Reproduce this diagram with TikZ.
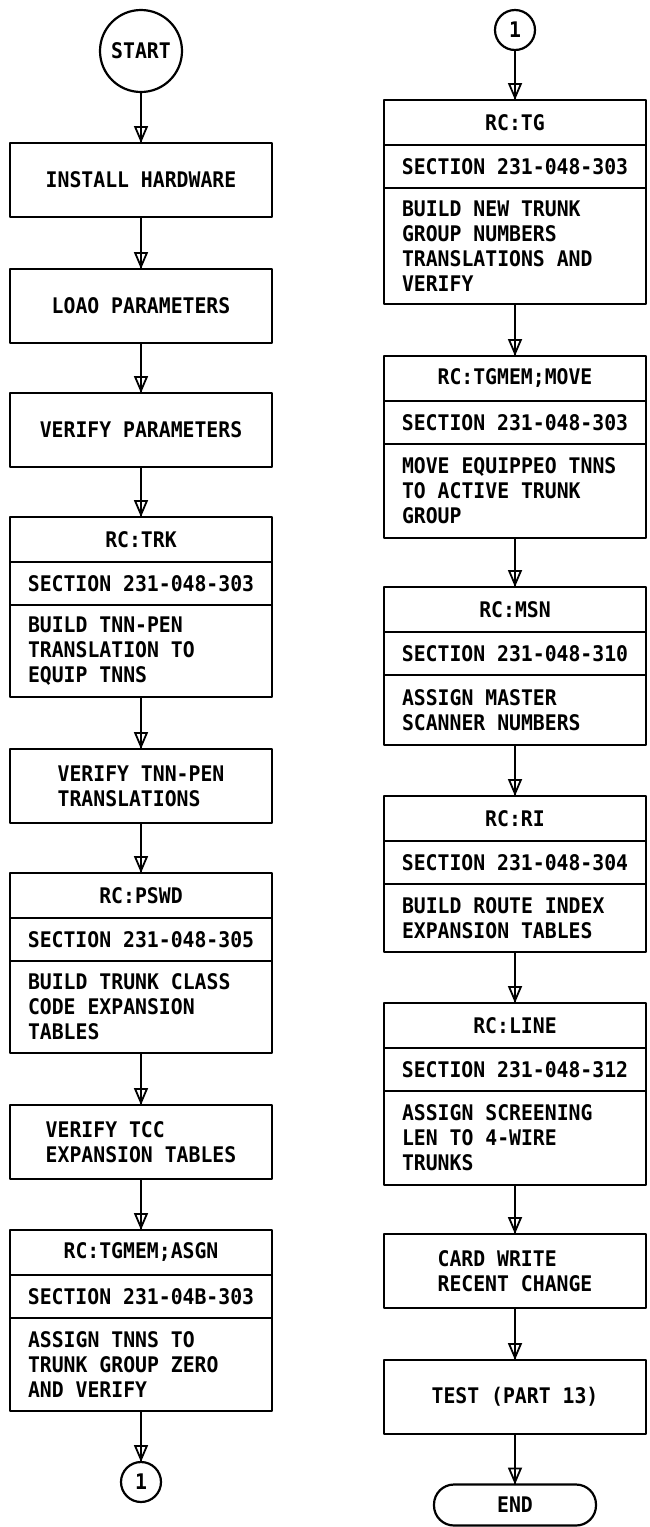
\documentclass[tikz,border=0pt]{standalone}
\usepackage{fontspec}
\setmainfont{DejaVu Sans Mono}[FakeStretch=0.92, WordSpace={1,0,0}]
\usetikzlibrary{arrows.meta,positioning}

\begin{document}
\begin{tikzpicture}[x=1pt, y=-1pt, line cap=round, line join=round,
	>={Triangle[open,width=14pt,length=17pt]},
	every node/.style={font=\fontsize{21.5}{25}\selectfont\bfseries, outer sep=0pt, inner sep=4pt, line width=2.2pt},
	box/.style={draw, rectangle, minimum width=262pt, minimum height=74pt, align=left},
	head/.style={draw, rectangle, minimum width=262pt, minimum height=45pt},
	sect/.style={draw, rectangle, minimum width=262pt, minimum height=43pt},
	body/.style={draw, rectangle, text width=226pt, inner xsep=18pt, align=flush left,
		execute at begin node={\spaceskip=\fontdimen2\font\relax}},
	conn/.style={draw, circle, minimum size=40pt, inner sep=0pt},
	flow/.style={->, line width=1.8pt, postaction={draw,-}}]
	% Page bounds
	\useasboundingbox (0,0) rectangle (649,1527);
	
	% Left column
	\node[conn, minimum size=82pt] (start) at (141,51) {START};
	\node[box, anchor=north] (hw) at (141,143) {INSTALL HARDWARE};
	\node[box, anchor=north] (load) at (141,269) {LOAO PARAMETERS};
	\node[box, anchor=north] (vpar) at (141,393) {VERIFY PARAMETERS};
	
	% RC:TRK
	\node[head, anchor=north] (trkH) at (141,517) {RC:TRK};
	\node[sect, below=0pt of trkH] (trkS) {SECTION 231-048-303};
	\node[body, below=0pt of trkS, minimum height=92pt] (trkB) {BUILD TNN-PEN\\TRANSLATION TO\\EQUIP TNNS};
	
	\node[box, anchor=north] (vtnn) at (141,749) {VERIFY TNN-PEN\\TRANSLATIONS};
	
	% RC:PSWD
	\node[head, anchor=north] (pswdH) at (141,873) {RC:PSWD};
	\node[sect, below=0pt of pswdH] (pswdS) {SECTION 231-048-305};
	\node[body, below=0pt of pswdS, minimum height=92pt] (pswdB) {BUILD TRUNK CLASS\\CODE EXPANSION\\TABLES};
	
	\node[box, anchor=north] (vtcc) at (141,1105) {VERIFY TCC\\EXPANSION TABLES};
	
	% RC:TGMEM;ASGN
	\node[head, anchor=north] (asgnH) at (141,1230) {RC:TGMEM;ASGN};
	\node[sect, below=0pt of asgnH] (asgnS) {SECTION 231-04B-303};
	\node[body, below=0pt of asgnS, minimum height=93pt] (asgnB) {ASSIGN TNNS TO\\TRUNK GROUP ZERO\\AND VERIFY};
	
	\node[conn] (offL) at (141,1482) {1};
	
	% Right column
	\node[conn] (onR) at (515,30) {1};
	
	% RC:TG
	\node[head, anchor=north] (tgH) at (515,100) {RC:TG};
	\node[sect, below=0pt of tgH] (tgS) {SECTION 231-048-303};
	\node[body, below=0pt of tgS, minimum height=116pt] (tgB) {BUILD NEW TRUNK\\GROUP NUMBERS\\TRANSLATIONS AND\\VERIFY};
	
	% RC:TGMEM;MOVE
	\node[head, anchor=north] (moveH) at (515,356) {RC:TGMEM;MOVE};
	\node[sect, below=0pt of moveH] (moveS) {SECTION 231-048-303};
	\node[body, below=0pt of moveS, minimum height=94pt] (moveB) {MOVE EQUIPPEO TNNS\\TO ACTIVE TRUNK\\GROUP};
	
	% RC:MSN
	\node[head, anchor=north] (msnH) at (515,587) {RC:MSN};
	\node[sect, below=0pt of msnH] (msnS) {SECTION 231-048-310};
	\node[body, below=0pt of msnS, minimum height=70pt] (msnB) {ASSIGN MASTER\\SCANNER NUMBERS};
	
	% RC:RI
	\node[head, anchor=north] (riH) at (515,796) {RC:RI};
	\node[sect, below=0pt of riH] (riS) {SECTION 231-048-304};
	\node[body, below=0pt of riS, minimum height=68pt] (riB) {BUILD ROUTE INDEX\\EXPANSION TABLES};
	
	% RC:LINE
	\node[head, anchor=north] (lineH) at (515,1003) {RC:LINE};
	\node[sect, below=0pt of lineH] (lineS) {SECTION 231-048-312};
	\node[body, below=0pt of lineS, minimum height=94pt] (lineB) {ASSIGN SCREENING\\LEN TO 4-WIRE\\TRUNKS};
	
	\node[box, anchor=north] (card) at (515,1234) {CARD WRITE\\RECENT CHANGE};
	\node[box, anchor=north] (test) at (515,1360) {TEST (PART 13)};
	\node[draw, rounded corners=20pt, minimum width=162pt, minimum height=41pt] (end) at (515,1505) {END};
	
	% Flow lines, left
	\draw[flow] (start) -- (hw);
	\draw[flow] (hw) -- (load);
	\draw[flow] (load) -- (vpar);
	\draw[flow] (vpar) -- (trkH);
	\draw[flow] (trkB) -- (vtnn);
	\draw[flow] (vtnn) -- (pswdH);
	\draw[flow] (pswdB) -- (vtcc);
	\draw[flow] (vtcc) -- (asgnH);
	\draw[flow] (asgnB) -- (offL);
	
	% Flow lines, right
	\draw[flow] (onR) -- (tgH);
	\draw[flow] (tgB) -- (moveH);
	\draw[flow] (moveB) -- (msnH);
	\draw[flow] (msnB) -- (riH);
	\draw[flow] (riB) -- (lineH);
	\draw[flow] (lineB) -- (card);
	\draw[flow] (card) -- (test);
	\draw[flow] (test) -- (end);
\end{tikzpicture}
\end{document}
